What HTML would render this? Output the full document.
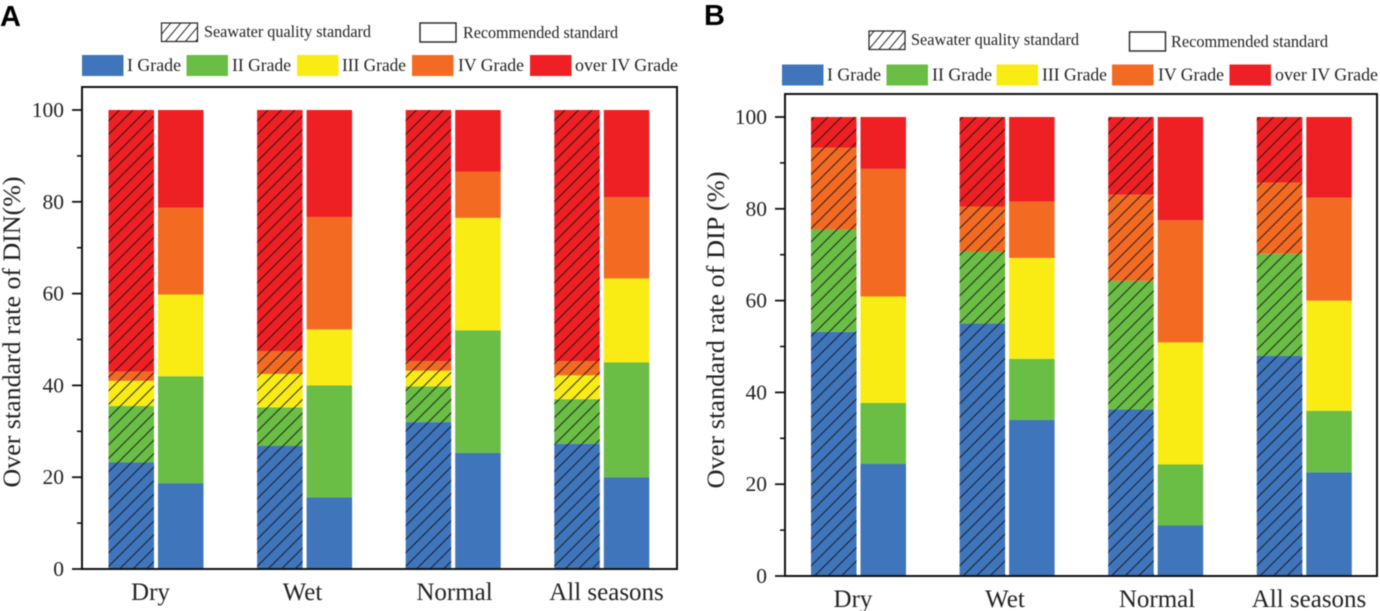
<!DOCTYPE html>
<html>
<head>
<meta charset="utf-8">
<title>Over standard rates of DIN and DIP</title>
<style>
html,body{margin:0;padding:0;background:#fff;width:1380px;height:611px;overflow:hidden}
svg{display:block;font-family:"Liberation Serif",serif;color:#222;filter:blur(0.4px)}
text{fill:#222}
</style>
</head>
<body>
<svg id="chart" width="1380" height="611" viewBox="0 0 1380 611" xmlns="http://www.w3.org/2000/svg">
<defs>
<pattern id="hatch" patternUnits="userSpaceOnUse" width="13.5" height="13.5">
<path d="M-3 3L3 -3M0 13.5L13.5 0M10.5 16.5L16.5 10.5" stroke="#111" stroke-opacity="0.85" stroke-width="1" fill="none"/>
</pattern>
<pattern id="hatch-key" patternUnits="userSpaceOnUse" width="10" height="12">
<path d="M-2.5 3L2.5 -3M0 12L10 0M7.5 15L12.5 9" stroke="#222" stroke-width="1" fill="none"/>
</pattern>
</defs>
<text x="0" y="26" style="font-family:'Liberation Sans',sans-serif;font-weight:bold;font-size:29px;fill:#000">A</text>
<text x="704" y="25" style="font-family:'Liberation Sans',sans-serif;font-weight:bold;font-size:29px;fill:#000">B</text>
<g id="panelA"></g>
<g id="panelB"></g>
</svg>
<script>
const categories = ["Dry", "Wet", "Normal", "All seasons"];
const grades = ["I Grade", "II Grade", "III Grade", "IV Grade", "over IV Grade"];
const yTicks = [0, 20, 40, 60, 80, 100];
const yMinorTicks = [10, 30, 50, 70, 90];

// Panel A (DIN): each array is one grade across Dry, Wet, Normal, All seasons
const dinSeawaterI = [23.2, 26.8, 32.0, 27.3];
const dinSeawaterII = [12.3, 8.4, 7.8, 9.7];
const dinSeawaterIII = [5.5, 7.3, 3.4, 5.2];
const dinSeawaterIV = [2.0, 5.0, 2.1, 3.1];
const dinSeawaterOver = [57.0, 52.5, 54.7, 54.7];
const dinRecommendedI = [18.7, 15.6, 25.3, 20.0];
const dinRecommendedII = [23.3, 24.4, 26.7, 25.0];
const dinRecommendedIII = [17.8, 12.2, 24.5, 18.3];
const dinRecommendedIV = [18.9, 24.5, 10.1, 17.7];
const dinRecommendedOver = [21.3, 23.3, 13.4, 19.0];

// Panel B (DIP)
const dipSeawaterI = [53.2, 55.0, 36.3, 48.0];
const dipSeawaterII = [22.3, 15.7, 28.0, 22.2];
const dipSeawaterIII = [0, 0, 0, 0];
const dipSeawaterIV = [17.8, 9.8, 18.8, 15.5];
const dipSeawaterOver = [6.7, 19.5, 16.9, 14.3];
const dipRecommendedI = [24.4, 34.0, 11.0, 22.6];
const dipRecommendedII = [13.3, 13.3, 13.3, 13.4];
const dipRecommendedIII = [23.2, 22.0, 26.6, 24.0];
const dipRecommendedIV = [27.8, 12.3, 26.6, 22.4];
const dipRecommendedOver = [11.3, 18.4, 22.5, 17.6];

const gradeColors = ["#3f75bb", "#6abd45", "#f9ec14", "#f36a23", "#ee2024"];
const NS = "http://www.w3.org/2000/svg";

function make(tag, parent, attrs) {
  const el = document.createElementNS(NS, tag);
  for (const k in attrs) el.setAttribute(k, attrs[k]);
  parent.appendChild(el);
  return el;
}

function drawPanel(root, cfg) {
  const yScale = v => cfg.y0 + (cfg.y100 - cfg.y0) * v / 100;
  const groupX = i => cfg.firstBar + i * cfg.groupStep;

  // bars
  [cfg.seawater, cfg.recommended].forEach((series, s) => {
    categories.forEach((cat, i) => {
      const x = groupX(i) + s * cfg.barStep;
      let total = 0;
      series.forEach((values, g) => {
        const v = values[i];
        const top = yScale(total + v);
        const bottom = yScale(total);
        total += v;
        if (v <= 0) return;
        const seg = make("rect", root, {x: x, y: top, width: cfg.barW, height: bottom - top, fill: gradeColors[g]});
        
        
        if (s === 0) {
          const hatch = make("rect", root, {x: x, y: top, width: cfg.barW, height: bottom - top, fill: "url(#hatch)"});
          
          
        }
      });
    });
  });

  // frame
  const frame = make("rect", root, {x: cfg.left, y: cfg.top, width: cfg.right - cfg.left, height: cfg.y0 - cfg.top, fill: "none", stroke: "#111", "stroke-width": 2});
  
  

  // y ticks
  yTicks.forEach(t => {
    const y = yScale(t);
    const tick = make("line", root, {x1: cfg.left - 10, x2: cfg.left, y1: y, y2: y, stroke: "#111", "stroke-width": 1.8});
    
    
    const label = make("text", root, {x: cfg.left - 18, y: y + 7, "text-anchor": "end", "font-size": 21.5});
    label.textContent = t;
    
    
  });
  yMinorTicks.forEach(t => {
    const y = yScale(t);
    const tick = make("line", root, {x1: cfg.left - 5, x2: cfg.left, y1: y, y2: y, stroke: "#111", "stroke-width": 1.6});
    
    
  });

  // x labels
  categories.forEach((cat, i) => {
    const label = make("text", root, {x: cfg.labelStart + i * cfg.labelStep, y: cfg.y0 + 31, "text-anchor": "middle", "font-size": 25});
    label.textContent = cat;
    
    
  });

  // y title
  const title = make("text", root, {transform: "translate(" + cfg.titleX + " " + cfg.titleY + ") rotate(-90)", "text-anchor": "middle", "font-size": 25, textLength: cfg.titleLen, lengthAdjust: "spacingAndGlyphs"});
  title.textContent = cfg.yTitle;
  
  

  // pattern legend
  const key1 = make("rect", root, {x: cfg.key1[0], y: cfg.key1[1], width: 36, height: 18.5, fill: "url(#hatch-key)", stroke: "#222", "stroke-width": 1.2});
  
  
  const key1Text = make("text", root, {x: cfg.key1[2], y: cfg.key1[3], "font-size": 17, textLength: cfg.key1[4], lengthAdjust: "spacingAndGlyphs"});
  key1Text.textContent = "Seawater quality standard";
  
  
  const key2 = make("rect", root, {x: cfg.key2[0], y: cfg.key2[1], width: 36, height: 19, fill: "#fff", stroke: "#222", "stroke-width": 1.4});
  
  
  const key2Text = make("text", root, {x: cfg.key2[2], y: cfg.key2[3], "font-size": 17, textLength: cfg.key2[4], lengthAdjust: "spacingAndGlyphs"});
  key2Text.textContent = "Recommended standard";
  
  

  // grade legend
  grades.forEach((g, i) => {
    const e = cfg.gradeKeys[i];
    const sw = make("rect", root, {x: e[0], y: cfg.gradeY, width: 41.5, height: 21, fill: gradeColors[i]});
    
    
    const tx = make("text", root, {x: e[1], y: cfg.gradeY + 16, "font-size": 17.5, textLength: e[2], lengthAdjust: "spacingAndGlyphs"});
    tx.textContent = g;
    
    
  });
}

drawPanel(document.getElementById("panelA"), {
  left: 82, right: 677, top: 87, y0: 569, y100: 110,
  firstBar: 108.5, groupStep: 148.6, barStep: 49.5, barW: 45.5,
  labelStart: 150.5, labelStep: 152,
  titleX: 20, titleY: 332, titleLen: 311, yTitle: "Over standard rate of DIN(%)",
  key1: [161.5, 23, 204, 37, 167], key2: [420, 23, 463, 38, 155],
  gradeY: 55,
  gradeKeys: [[82, 127, 54], [186.5, 232, 59], [297, 342, 64], [412, 458, 66], [530, 575, 103]],
  seawater: [dinSeawaterI, dinSeawaterII, dinSeawaterIII, dinSeawaterIV, dinSeawaterOver],
  recommended: [dinRecommendedI, dinRecommendedII, dinRecommendedIII, dinRecommendedIV, dinRecommendedOver]
});

drawPanel(document.getElementById("panelB"), {
  left: 785, right: 1377, top: 94, y0: 576, y100: 117,
  firstBar: 811, groupStep: 148.6, barStep: 49.5, barW: 45.5,
  labelStart: 853, labelStep: 152,
  titleX: 724, titleY: 330, titleLen: 317, yTitle: "Over standard rate of DIP (%)",
  key1: [869, 31, 911, 45, 168], key2: [1129.5, 32, 1171, 47, 157],
  gradeY: 64.5,
  gradeKeys: [[782, 827, 54], [886.5, 932, 60], [996.5, 1042, 65], [1112, 1158, 66], [1229.5, 1275, 103]],
  seawater: [dipSeawaterI, dipSeawaterII, dipSeawaterIII, dipSeawaterIV, dipSeawaterOver],
  recommended: [dipRecommendedI, dipRecommendedII, dipRecommendedIII, dipRecommendedIV, dipRecommendedOver]
});
</script>
</body>
</html>
